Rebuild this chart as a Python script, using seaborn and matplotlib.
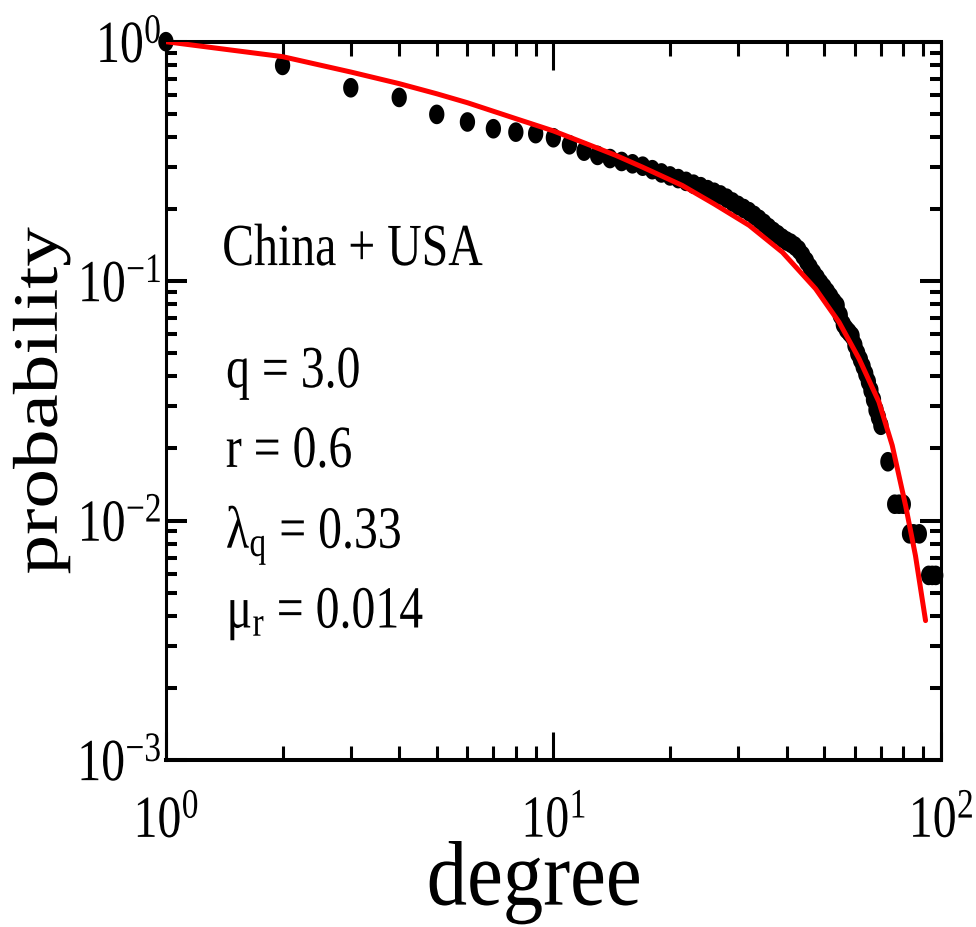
import numpy as np
import pandas as pd
import seaborn as sns
from matplotlib import pyplot as plt
from matplotlib.patheffects import AbstractPathEffect
from matplotlib.transforms import Affine2D
from matplotlib.ticker import NullFormatter, LogLocator

# data (complementary cumulative degree distribution)
degree = list(range(1, 71)) + [73, 76, 78, 80, 83, 85, 88, 93, 95, 97]
probability = [
    1.0, 0.796, 0.642, 0.585, 0.497, 0.462, 0.433, 0.419, 0.413, 0.397,
    0.371, 0.349, 0.335, 0.325, 0.316, 0.309, 0.302, 0.292, 0.283, 0.275,
    0.268, 0.261, 0.254, 0.248, 0.241, 0.235, 0.229, 0.222, 0.214, 0.207,
    0.201, 0.195, 0.188, 0.181, 0.174, 0.167, 0.161, 0.156, 0.151, 0.147,
    0.144, 0.140, 0.135, 0.128, 0.121, 0.114, 0.108, 0.103, 0.098, 0.094,
    0.090, 0.086, 0.082, 0.079, 0.072, 0.066, 0.063, 0.061, 0.059, 0.054,
    0.050, 0.047, 0.044, 0.041, 0.038, 0.035, 0.032, 0.029, 0.027, 0.025,
    0.0176, 0.0117, 0.0117, 0.0117, 0.0088, 0.0088, 0.0088, 0.0059, 0.0059, 0.0059,
]

# fitted curve
fit_degree = [1, 2, 3, 4, 5, 6, 8, 10, 12, 14.5, 17, 21.5, 26, 32, 39, 47.5,
              54.6, 61.5, 69.2, 74.9, 81.1, 86, 91.3]
fit_prob = [1.0, 0.866, 0.747, 0.668, 0.606, 0.556, 0.477, 0.424, 0.378, 0.335,
            0.299, 0.251, 0.210, 0.171, 0.132, 0.0929, 0.0674, 0.0474, 0.0313,
            0.0206, 0.01154, 0.00713, 0.00382]

labels = ['China + USA', 'q = 3.0', 'r = 0.6', r'$\lambda_q$ = 0.33', r'$\mu_r$ = 0.014']
label_y = [0.689, 0.519, 0.408, 0.295, 0.184]

SQ = 0.8  # the reference text is horizontally condensed


class Squeeze(AbstractPathEffect):
    def __init__(self, sx=1.0, sy=1.0, anchor='center'):
        super().__init__()
        self.sx, self.sy, self.anchor = sx, sy, anchor

    def draw_path(self, renderer, gc, tpath, affine, rgbFace=None):
        ext = tpath.get_extents()
        cx = {'left': ext.x0, 'right': ext.x1, 'center': (ext.x0 + ext.x1) / 2}[self.anchor]
        cy = (ext.y0 + ext.y1) / 2
        t = Affine2D().translate(-cx, -cy).scale(self.sx, self.sy).translate(cx, cy)
        renderer.draw_path(gc, tpath, t + affine, rgbFace)


sns.set_style('ticks')
plt.rcParams['font.family'] = ['Liberation Serif', 'DejaVu Serif']
plt.rcParams['mathtext.fontset'] = 'custom'
plt.rcParams['mathtext.rm'] = 'Liberation Serif'
plt.rcParams['mathtext.it'] = 'Liberation Serif'
plt.rcParams['mathtext.default'] = 'regular'
plt.rcParams['axes.unicode_minus'] = False
for key in ['text.color', 'axes.labelcolor', 'axes.edgecolor', 'xtick.color', 'ytick.color']:
    plt.rcParams[key] = 'black'

df = pd.DataFrame({'degree': degree, 'probability': probability})
fit = pd.DataFrame({'degree': fit_degree, 'probability': fit_prob})

fig = plt.figure(figsize=(9.76, 9.28), dpi=100)
ax = fig.add_axes([0.170, 0.180, 0.794, 0.774])

t = np.linspace(0, 2 * np.pi, 41)
ellipse = list(zip(0.78 * np.cos(t), np.sin(t)))

sns.scatterplot(data=df, x='degree', y='probability', marker=ellipse, s=200,
                color='black', edgecolor='none', linewidth=0, ax=ax, zorder=2, clip_on=False)
sns.lineplot(data=fit, x='degree', y='probability', color='#ff0000', linewidth=3.6,
             ax=ax, zorder=3, sort=False, estimator=None)

ax.set(xscale='log', yscale='log')
ax.set_xlim(1, 100)
ax.set_ylim(1e-3, 1)
ax.xaxis.set_minor_locator(LogLocator(subs=np.arange(2, 10)))
ax.yaxis.set_minor_locator(LogLocator(subs=np.arange(2, 10)))
ax.xaxis.set_minor_formatter(NullFormatter())
ax.yaxis.set_minor_formatter(NullFormatter())

for side in ['top', 'bottom']:
    ax.spines[side].set_linewidth(2.9)
for side in ['left', 'right']:
    ax.spines[side].set_linewidth(2.2)

ax.tick_params(which='both', direction='in', top=True, right=True)
ax.tick_params(axis='x', which='major', length=20, width=2.2, labelsize=43, pad=26)
ax.tick_params(axis='x', which='minor', length=10, width=2.2)
ax.tick_params(axis='y', which='major', length=15, width=2.9, labelsize=43, pad=3)
ax.tick_params(axis='y', which='minor', length=8, width=2.9)

ax.set_xlabel('degree', fontsize=66)
ax.set_ylabel('probability', fontsize=57)
ax.xaxis.set_label_coords(0.475, -0.113)
ax.yaxis.set_label_coords(-0.114, 0.50)
ax.xaxis.label.set_path_effects([Squeeze(sx=0.88)])
ax.yaxis.label.set_path_effects([Squeeze(sy=0.8)])

for tick in ax.xaxis.get_major_ticks():
    tick.label1.set_path_effects([Squeeze(sx=SQ)])
for tick in ax.yaxis.get_major_ticks():
    tick.label1.set_path_effects([Squeeze(sx=SQ, anchor='right')])

for i, text in enumerate(labels):
    x0 = 0.072 if i == 0 else 0.077
    ax.text(x0, label_y[i], text, transform=ax.transAxes, fontsize=43,
            va='baseline', ha='left', path_effects=[Squeeze(sx=SQ, anchor='left')])

fig.savefig('out.png', dpi=100)
